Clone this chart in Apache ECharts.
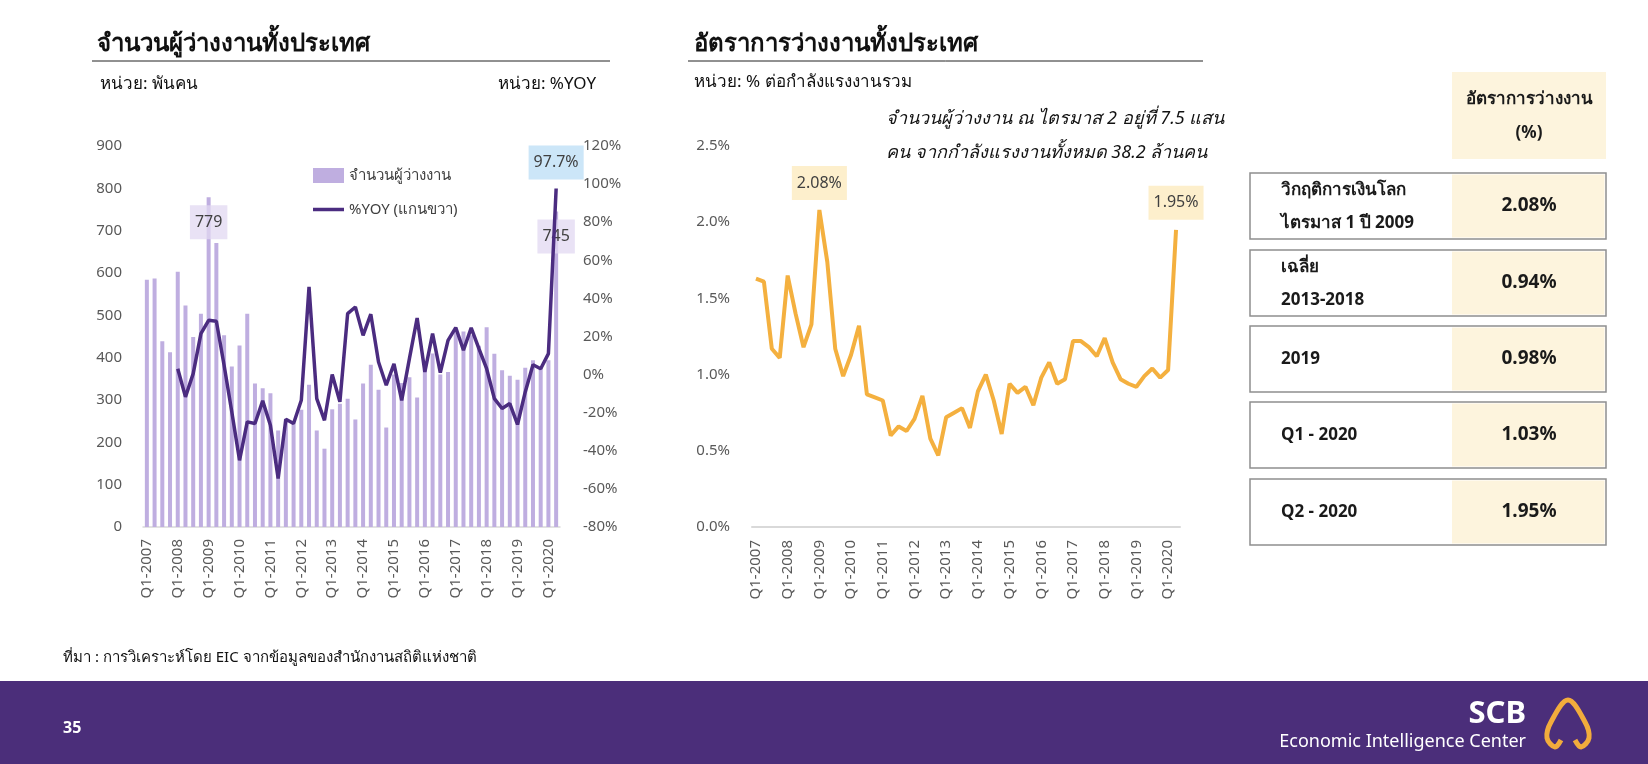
<!DOCTYPE html>
<html>
<head>
<meta charset="utf-8">
<title>การว่างงานทั้งประเทศ</title>
<script src="https://cdn.jsdelivr.net/npm/echarts@6.0.0/dist/echarts.min.js"></script>
<style>
  html, body { margin: 0; padding: 0; background: #fff; }
  #main { width: 1648px; height: 764px; }
</style>
</head>
<body>
<div id="main"></div>
<script>
// ไตรมาส Q1-2007 .. Q2-2020
var quarters = [
  'Q1-2007','Q2-2007','Q3-2007','Q4-2007','Q1-2008','Q2-2008','Q3-2008','Q4-2008',
  'Q1-2009','Q2-2009','Q3-2009','Q4-2009','Q1-2010','Q2-2010','Q3-2010','Q4-2010',
  'Q1-2011','Q2-2011','Q3-2011','Q4-2011','Q1-2012','Q2-2012','Q3-2012','Q4-2012',
  'Q1-2013','Q2-2013','Q3-2013','Q4-2013','Q1-2014','Q2-2014','Q3-2014','Q4-2014',
  'Q1-2015','Q2-2015','Q3-2015','Q4-2015','Q1-2016','Q2-2016','Q3-2016','Q4-2016',
  'Q1-2017','Q2-2017','Q3-2017','Q4-2017','Q1-2018','Q2-2018','Q3-2018','Q4-2018',
  'Q1-2019','Q2-2019','Q3-2019','Q4-2019','Q1-2020','Q2-2020'
];

// จำนวนผู้ว่างงาน (พันคน)
var unemployed = [
  584, 587, 439, 413, 603, 523, 449, 504,
  779, 671, 453, 379, 429, 504, 339, 328,
  316, 228, 255, 244, 277, 336, 228, 185,
  278, 291, 303, 254, 339, 383, 324, 235,
  360, 340, 354, 306, 372, 410, 360, 366,
  463, 462, 453, 428, 472, 409, 370, 357,
  348, 376, 394, 378, 394, 745
];

// %YOY (แกนขวา)
var yoy = [
  null, null, null, null, 3.1, -11.7, 0.5, 21.5,
  28.5, 28.0, 4.9, -19.6, -45.0, -24.8, -25.7, -13.8,
  -26.6, -54.6, -23.4, -25.7, -13.5, 46.0, -12.6, -24.0,
  0.0, -14.3, 32.0, 35.5, 20.6, 31.7, 6.6, -5.6,
  5.6, -13.5, 8.4, 29.7, 1.4, 21.5, 1.0, 18.0,
  24.7, 12.8, 24.5, 13.6, 3.1, -12.6, -17.8, -15.2,
  -26.2, -9.1, 5.2, 3.1, 11.0, 97.7
];

// อัตราการว่างงาน (% ต่อกำลังแรงงานรวม)
var unemploymentRate = [
  1.63, 1.61, 1.17, 1.11, 1.65, 1.40, 1.18, 1.33,
  2.08, 1.74, 1.17, 0.99, 1.13, 1.32, 0.87, 0.85,
  0.83, 0.60, 0.66, 0.63, 0.71, 0.86, 0.58, 0.47,
  0.72, 0.75, 0.78, 0.65, 0.89, 1.00, 0.83, 0.61,
  0.94, 0.88, 0.92, 0.80, 0.98, 1.08, 0.94, 0.97,
  1.22, 1.22, 1.18, 1.12, 1.24, 1.08, 0.97, 0.94,
  0.92, 0.99, 1.04, 0.98, 1.03, 1.95
];

var tableLabels = [
  ['วิกฤติการเงินโลก', 'ไตรมาส 1 ปี 2009'],
  ['เฉลี่ย', '2013-2018'],
  ['2019'],
  ['Q1 - 2020'],
  ['Q2 - 2020']
];
var tableValues = ['2.08%', '0.94%', '0.98%', '1.03%', '1.95%'];

// จุดที่มีป้ายกำกับ
var barTagged = [8, 53];
var yoyTagged = [53];
var rateTagged = [8, 53];

var FONT = "'Noto Sans', 'DejaVu Sans', sans-serif";
var chart = echarts.init(document.getElementById('main'));

function tagLabel(bg, position, distance, fmt) {
  return {
    show: true,
    position: position,
    distance: distance,
    formatter: fmt,
    backgroundColor: bg,
    color: '#404040',
    fontSize: 16,
    fontFamily: FONT,
    lineHeight: 20,
    padding: [7, 5]
  };
}

var barData = unemployed.map(function (v, i) {
  if (barTagged.indexOf(i) < 0) return v;
  return { value: v, label: tagLabel('rgba(226,216,242,0.75)', 'insideTop', 8, '{c}') };
});
var yoyData = yoy.map(function (v, i) {
  if (yoyTagged.indexOf(i) < 0) return v;
  return { value: v, label: tagLabel('#cce6f8', 'top', 9, function (p) { return p.value.toFixed(1) + '%'; }) };
});
var rateData = unemploymentRate.map(function (v, i) {
  if (rateTagged.indexOf(i) < 0) return v;
  return { value: v, label: tagLabel('#fdefcc', 'top', 10, function (p) { return p.value.toFixed(2) + '%'; }) };
});

var axisText = { color: '#595959', fontSize: 15, fontFamily: FONT };

// ตารางด้านขวา
var tableGraphics = [];
var rowTops = [173, 250, 326, 402, 479];
tableGraphics.push({
  type: 'rect', shape: { x: 1452, y: 72, width: 154, height: 87 },
  style: { fill: '#fdf4dd' }
});
tableGraphics.push({
  type: 'text', x: 1529, y: 99,
  style: { text: 'อัตราการว่างงาน', font: 'bold 17px ' + FONT, fill: '#1a1a1a', align: 'center', verticalAlign: 'middle' }
});
tableGraphics.push({
  type: 'text', x: 1529, y: 133,
  style: { text: '(%)', font: 'bold 17px ' + FONT, fill: '#1a1a1a', align: 'center', verticalAlign: 'middle' }
});
rowTops.forEach(function (top, i) {
  tableGraphics.push({
    type: 'rect', shape: { x: 1250, y: top, width: 356, height: 66 },
    style: { fill: '#fff', stroke: '#8f8f8f', lineWidth: 1.5 }
  });
  tableGraphics.push({
    type: 'rect', shape: { x: 1452, y: top + 1.5, width: 152.5, height: 63 },
    style: { fill: '#fdf4dd' }
  });
  var lines = tableLabels[i];
  lines.forEach(function (t, k) {
    var cy = lines.length === 1 ? top + 33 : top + 17 + k * 33;
    tableGraphics.push({
      type: 'text', x: 1281, y: cy,
      style: { text: t, font: 'bold 17px ' + FONT, fill: '#1a1a1a', verticalAlign: 'middle' }
    });
  });
  tableGraphics.push({
    type: 'text', x: 1529, y: top + 33,
    style: { text: tableValues[i], font: 'bold 19px ' + FONT, fill: '#1a1a1a', align: 'center', verticalAlign: 'middle' }
  });
});

var option = {
  animation: false,
  backgroundColor: '#ffffff',
  textStyle: { fontFamily: FONT },
  legend: {
    left: 313, top: 168, orient: 'vertical',
    padding: 0, itemGap: 19, itemWidth: 31, itemHeight: 15,
    textStyle: { color: '#404040', fontSize: 15, fontFamily: FONT },
    data: [
      { name: 'จำนวนผู้ว่างงาน', icon: 'rect' },
      { name: '%YOY (แกนขวา)', icon: 'path://M0,0 L62,0 L62,7 L0,7 Z' }
    ]
  },
  grid: [
    { left: 143, top: 146, width: 417, height: 381 },
    { left: 752, top: 146, width: 428, height: 381 }
  ],
  xAxis: [
    {
      type: 'category', gridIndex: 0, data: quarters,
      axisLine: { lineStyle: { color: '#d9d9d9', width: 1.5 } },
      axisTick: { show: false },
      axisLabel: Object.assign({ interval: 3, rotate: 90, margin: 12 }, axisText)
    },
    {
      type: 'category', gridIndex: 1, data: quarters,
      axisLine: { lineStyle: { color: '#d9d9d9', width: 2 } },
      axisTick: { show: false },
      axisLabel: Object.assign({ interval: 3, rotate: 90, margin: 13 }, axisText)
    }
  ],
  yAxis: [
    {
      type: 'value', gridIndex: 0, min: 0, max: 900, interval: 100,
      splitLine: { show: false }, axisLine: { show: false }, axisTick: { show: false },
      axisLabel: Object.assign({ margin: 21 }, axisText)
    },
    {
      type: 'value', gridIndex: 0, position: 'right', min: -80, max: 120, interval: 20,
      splitLine: { show: false }, axisLine: { show: false }, axisTick: { show: false },
      axisLabel: Object.assign({ margin: 23, formatter: '{value}%' }, axisText)
    },
    {
      type: 'value', gridIndex: 1, min: 0, max: 2.5, interval: 0.5,
      splitLine: { show: false }, axisLine: { show: false }, axisTick: { show: false },
      axisLabel: Object.assign({ margin: 22, formatter: function (v) { return v.toFixed(1) + '%'; } }, axisText)
    }
  ],
  series: [
    {
      name: 'จำนวนผู้ว่างงาน', type: 'bar', xAxisIndex: 0, yAxisIndex: 0,
      data: barData, barWidth: 4,
      itemStyle: { color: '#bfaee0' }
    },
    {
      name: '%YOY (แกนขวา)', type: 'line', xAxisIndex: 0, yAxisIndex: 1,
      data: yoyData, symbol: 'circle', symbolSize: 0, showSymbol: true, connectNulls: false,
      lineStyle: { color: '#4b2c80', width: 3.5 },
      itemStyle: { color: '#4b2c80' }
    },
    {
      name: 'อัตราการว่างงาน', type: 'line', xAxisIndex: 1, yAxisIndex: 2,
      data: rateData, symbol: 'circle', symbolSize: 0, showSymbol: true,
      lineStyle: { color: '#f4b03f', width: 4 },
      itemStyle: { color: '#f4b03f' }
    }
  ],
  graphic: [
    { type: 'text', x: 97, y: 44, style: { text: 'จำนวนผู้ว่างงานทั้งประเทศ', font: 'bold 24px ' + FONT, fill: '#111', verticalAlign: 'middle' } },
    { type: 'line', shape: { x1: 92, y1: 61, x2: 610, y2: 61 }, style: { stroke: '#222', lineWidth: 1 } },
    { type: 'text', x: 100, y: 84, style: { text: 'หน่วย: พันคน', font: '17px ' + FONT, fill: '#111', verticalAlign: 'middle' } },
    { type: 'text', x: 596, y: 84, style: { text: 'หน่วย: %YOY', font: '17px ' + FONT, fill: '#111', align: 'right', verticalAlign: 'middle' } },

    { type: 'text', x: 694, y: 44, style: { text: 'อัตราการว่างงานทั้งประเทศ', font: 'bold 24px ' + FONT, fill: '#111', verticalAlign: 'middle' } },
    { type: 'line', shape: { x1: 688, y1: 61, x2: 1203, y2: 61 }, style: { stroke: '#222', lineWidth: 1 } },
    { type: 'text', x: 694, y: 82, style: { text: 'หน่วย: % ต่อกำลังแรงงานรวม', font: '17px ' + FONT, fill: '#111', verticalAlign: 'middle' } },
    { type: 'text', x: 886, y: 119, style: { text: 'จำนวนผู้ว่างงาน ณ ไตรมาส 2 อยู่ที่ 7.5 แสน', font: 'italic 18px ' + FONT, fill: '#111', verticalAlign: 'middle' } },
    { type: 'text', x: 886, y: 153, style: { text: 'คน จากกำลังแรงงานทั้งหมด 38.2 ล้านคน', font: 'italic 18px ' + FONT, fill: '#111', verticalAlign: 'middle' } },

    { type: 'text', x: 63, y: 658, style: { text: 'ที่มา : การวิเคราะห์โดย EIC จากข้อมูลของสำนักงานสถิติแห่งชาติ', font: '15px ' + FONT, fill: '#111', verticalAlign: 'middle' } },

    { type: 'rect', shape: { x: 0, y: 681, width: 1648, height: 83 }, style: { fill: '#4b2e7a' } },
    { type: 'text', x: 63, y: 728, style: { text: '35', font: 'bold 16px ' + FONT, fill: '#fff', verticalAlign: 'middle' } },
    { type: 'text', x: 1526, y: 714, style: { text: 'SCB', font: 'bold 31px ' + FONT, fill: '#fff', align: 'right', verticalAlign: 'middle' } },
    { type: 'text', x: 1526, y: 742, style: { text: 'Economic Intelligence Center', font: '18px ' + FONT, fill: '#fff', align: 'right', verticalAlign: 'middle' } },
    // โลโก้ (เส้นโค้งรูประฆัง)
    { type: 'polyline',
      shape: { points: [[1561, 740], [1555, 747], [1547, 738], [1551, 722], [1568, 700], [1585, 722], [1589, 738], [1581, 747], [1575, 740]], smooth: 0.35 },
      style: { stroke: '#f2ac3c', lineWidth: 5, fill: null } }
  ].concat(tableGraphics)
};

chart.setOption(option);
</script>
</body>
</html>
